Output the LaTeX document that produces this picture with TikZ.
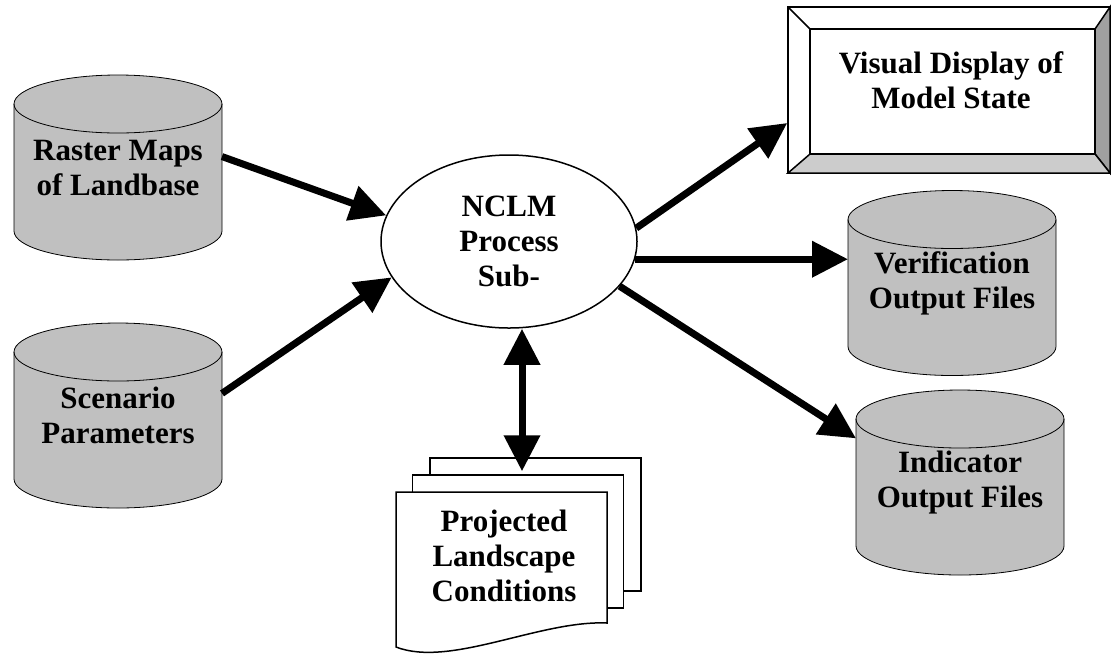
\documentclass[tikz,border=0pt]{standalone}
\usepackage{fontspec}
\setmainfont{Liberation Serif}
\usetikzlibrary{positioning,shapes.geometric,arrows.meta,backgrounds}

\definecolor{storegray}{RGB}{192,192,192}
\definecolor{bevelgray}{RGB}{160,160,160}
\definecolor{bevellight}{RGB}{204,204,204}

\begin{document}
\begin{tikzpicture}[x=0.5pt,y=-0.5pt,line width=0.75pt,font=\fontsize{15.5}{17.5}\selectfont\bfseries,
store node/.style={rectangle,minimum width=104pt,minimum height=92.5pt,align=center,inner sep=0pt,outer sep=0pt},
process node/.style={ellipse,draw,fill=white,minimum width=128pt,minimum height=86.5pt,align=center,inner sep=0pt},
page node/.style={rectangle,draw,fill=white,minimum width=105.5pt,minimum height=66.5pt},
flow/.style={-{Triangle[length=18pt,width=17.5pt]}},
both flow/.style={{Triangle[length=18pt,width=17.5pt]}-{Triangle[length=18pt,width=17.5pt]}}]
\useasboundingbox (0,0) rectangle (1111,654);

\node[store node] (raster) at (118,167.5) {Raster Maps\\of Landbase};
\node[store node] (scenario) at (118,415.5) {Scenario\\Parameters};
\node[process node] (nclm) at (509,241.5) {NCLM\\Process\\Sub-};
\node[store node] (verif) at (952,283) {Verification\\Output Files};
\node[store node] (indic) at (960,482.5) {Indicator\\Output Files};

% cylinders behind the store texts
\begin{scope}[on background layer]
\foreach \n in {raster,scenario,verif,indic}{
\filldraw[fill=storegray] ([yshift=-14.5pt]\n.north west) -- ([yshift=14.5pt]\n.south west)
arc[start angle=180,end angle=360,x radius=52pt,y radius=14.5pt]
-- ([yshift=-14.5pt]\n.north east)
arc[start angle=0,end angle=180,x radius=52pt,y radius=14.5pt] -- cycle;
\draw ([yshift=-14.5pt]\n.north west) arc[start angle=180,end angle=360,x radius=52pt,y radius=14.5pt];
}
\end{scope}

% display box
\node[draw,fill=white,minimum width=161pt,minimum height=83pt] (display) at (949,90) {};
\filldraw[fill=bevelgray] (1110,7) -- (1110,173) -- (1095,154) -- (1095,29) -- cycle;
\filldraw[fill=bevellight] (788,173) -- (1110,173) -- (1095,154) -- (810,154) -- cycle;
\draw (788,7) -- (810,29);
\draw (810,29) rectangle (1095,154);
\node[align=center] (displaytext) at (951,80) {Visual Display of\\Model State};

% pages
\node[page node] (back) at (535.5,524.5) {};
\node[page node] (mid) at (518,541.5) {};
\filldraw[fill=white] (396,492) -- (607,492) -- (607,623) .. controls (540,620) and (450,668) .. (396,647) -- cycle;
\node[align=center] (proj) at (504,556) {Projected\\Landscape\\Conditions};

\path[draw,line width=3.5pt] (raster.6) edge[flow] (nclm.168)
(scenario.12) edge[flow] (nclm.197)
(nclm.6) edge[flow] ([yshift=-16.5pt]display.west)
(nclm.-8) edge[flow] (nclm.-8 -| verif.west)
(nclm.-22) edge[flow] (indic.157)
([xshift=2pt,yshift=1.5pt]mid.north) edge[both flow] ([xshift=6.5pt]nclm.south);
\end{tikzpicture}
\end{document}
